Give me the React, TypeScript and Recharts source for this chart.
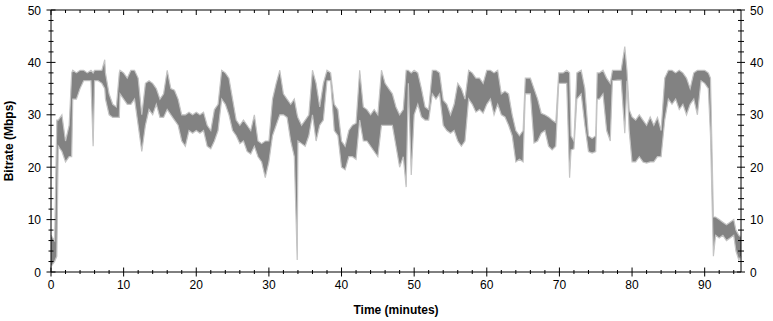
import React from "react";
import { AreaChart, Area, XAxis, YAxis } from "recharts";

// minutes into the stream
const minutes = [
  0, 0.5, 0.8, 1.0, 1.5, 2.0, 2.5, 2.85, 3.0, 3.5,
  4.0, 4.5, 5.0, 5.5, 5.8, 6.0, 6.5, 7.0, 7.4, 7.5,
  8.0, 8.5, 9.0, 9.4, 9.5, 10.0, 10.5, 11.0, 11.5, 12.0,
  12.5, 13.0, 13.5, 14.0, 14.5, 15.0, 15.5, 16.0, 16.5, 17.0,
  17.5, 18.0, 18.5, 19.0, 19.5, 20.0, 20.5, 21.0, 21.5, 22.0,
  22.5, 23.0, 23.5, 24.0, 24.5, 25.0, 25.5, 26.0, 26.5, 27.0,
  27.5, 28.0, 28.5, 29.0, 29.5, 30.0, 30.5, 31.0, 31.5, 32.0,
  32.5, 33.0, 33.5, 33.9, 34.0, 34.5, 35.0, 35.5, 36.0, 36.5,
  37.0, 37.5, 38.0, 38.5, 39.0, 39.5, 40.0, 40.5, 41.0, 41.5,
  42.0, 42.5, 43.0, 43.5, 44.0, 44.5, 45.0, 45.5, 46.0, 46.5,
  47.0, 47.5, 48.0, 48.5, 48.9, 49.2, 49.6, 50.0, 50.5, 51.0,
  51.5, 52.0, 52.5, 53.0, 53.5, 54.0, 54.5, 55.0, 55.5, 56.0,
  56.5, 57.0, 57.5, 58.0, 58.5, 59.0, 59.5, 60.0, 60.5, 61.0,
  61.5, 62.0, 62.5, 63.0, 63.5, 64.0, 64.5, 65.0, 65.3, 66.0,
  66.5, 67.0, 67.5, 68.0, 68.5, 69.0, 69.5, 69.9, 70.5, 71.0,
  71.4, 71.6, 72.0, 72.4, 73.0, 73.5, 74.0, 74.5, 75.0, 75.2,
  75.5, 76.0, 76.5, 77.0, 77.3, 78.0, 78.5, 79.0, 79.3, 79.6,
  80.0, 80.5, 81.0, 81.5, 82.0, 82.5, 83.0, 83.5, 84.0, 84.5,
  85.0, 85.5, 86.0, 86.5, 87.0, 87.5, 88.0, 88.5, 89.0, 89.5,
  90.0, 90.5, 90.8, 91.2, 91.5, 92.0, 92.5, 93.0, 93.5, 94.0,
  94.3, 94.7, 95.0,
];

// lower edge of the bitrate trace (Mbps)
const lowMbps = [
  1, 2, 3, 24, 23, 21, 22, 22, 33, 33,
  35, 36.5, 36.5, 36.5, 24, 36.5, 36.5, 36, 35, 33,
  30, 29.5, 29.5, 29.5, 34, 33, 32, 32, 33, 28,
  23, 28, 31, 30, 32, 29.5, 29.5, 31, 30, 29,
  28, 25, 24, 27, 26.5, 27, 26.5, 27, 24, 23.5,
  25, 27, 33, 32, 30, 27, 26, 24.5, 25, 23,
  22.5, 24, 22, 21, 18, 21, 26, 28, 30, 30,
  29.5, 25, 22, 2.3, 25, 24.5, 24, 26, 30, 25,
  28, 29, 36.5, 36.5, 27, 26, 20, 19.5, 22, 22,
  21.5, 29, 25, 25, 24, 23, 22, 28, 28, 28,
  28, 24, 20, 22, 16.2, 36, 18.5, 30, 32, 29.6,
  29, 29, 34, 33, 34, 28, 27, 26.5, 27, 25,
  24, 25, 33, 32, 30.5, 31, 30.3, 32, 33, 30,
  32, 30, 29.6, 28, 26, 21, 21.5, 21, 34, 34,
  24.6, 25, 26.5, 27, 24, 23.3, 24, 36, 36, 36,
  18, 23.3, 23.5, 33, 34, 28, 23, 22.7, 23, 33,
  33, 34, 27, 25, 36.5, 36.6, 36.6, 26.5, 36.5, 27,
  21, 21, 22, 21, 20.8, 21, 21, 22, 22, 29,
  33, 32, 33, 31, 32, 30, 32, 33, 30, 36.5,
  36, 35, 26, 3, 7, 6.5, 7, 6, 6.5, 7,
  4, 2.3, 3,
];

// upper edge of the bitrate trace (Mbps)
const highMbps = [
  7, 6, 29, 29, 30, 25, 28, 38, 38.5, 38,
  38.5, 38.5, 38, 38.5, 38, 38.5, 38.5, 38.5, 40.5, 38,
  34, 32, 31.5, 38, 38.5, 38, 37, 38.5, 38.5, 37,
  30, 36, 36.5, 36, 35, 33, 34, 38.5, 35, 34.7,
  33, 30, 30, 30.5, 30, 30.5, 30, 30.5, 28, 27,
  31, 32, 38.5, 38, 37, 33, 29, 28, 29, 28,
  27, 30, 25, 24.5, 25, 25, 33, 36, 38.5, 34,
  33, 32, 33, 30, 29.5, 28, 29, 30, 38.5, 36,
  31.5, 36, 38.5, 38, 32, 31, 25, 24, 27, 28,
  28.4, 38.5, 31.5, 31, 30, 31, 30, 38.5, 36, 35,
  34, 31.5, 30, 31, 38.5, 38.5, 38, 38.5, 38, 35,
  31.5, 31, 38.5, 38.5, 38, 32.8, 32, 30, 32, 36,
  35, 33, 38.5, 38, 37, 37, 36, 38.5, 38.5, 38,
  38.5, 34, 34.5, 34, 30, 27, 26, 27, 37, 37,
  35, 33, 30.3, 30, 29.6, 29, 28.5, 38, 38, 38.5,
  38, 26, 25, 38, 38.5, 35, 26, 25.5, 26, 38,
  38, 38.5, 37, 36, 38.5, 38.5, 38.5, 43, 38.5, 31,
  29.6, 29, 30, 29, 28, 29.6, 28, 29.5, 27, 37,
  38.5, 38.5, 38, 38.5, 38, 37, 35, 38, 38.5, 38.5,
  38.5, 38, 37, 10.5, 10.5, 10, 9.5, 9, 9.5, 10,
  8, 7, 6.7,
];

const xTicks = [
  0, 2, 4, 6, 8, 10, 12, 14, 16, 18, 20, 22, 24, 26, 28, 30, 32, 34, 36, 38,
  40, 42, 44, 46, 48, 50, 52, 54, 56, 58, 60, 62, 64, 66, 68, 70, 72, 74, 76, 78,
  80, 82, 84, 86, 88, 90, 92, 94,
];
const yTicks = [
  0, 2, 4, 6, 8, 10, 12, 14, 16, 18, 20, 22, 24, 26, 28, 30, 32, 34, 36, 38,
  40, 42, 44, 46, 48, 50,
];

const data = minutes.map((t, i) => ({ t, low: lowMbps[i], high: highMbps[i] }));

const FONT = "'Liberation Sans', Arial, sans-serif";

const BottomTick = ({ x, y, payload }: any) => {
  const major = payload.value % 10 === 0;
  const len = major ? 4.5 : 2;
  return (
    <g>
      <line x1={x} x2={x} y1={y - len} y2={y + len} stroke="#000" />
      {major && (
        <text x={x} y={y + 17} textAnchor="middle" fontSize={12} fontFamily={FONT} fill="#000">
          {payload.value}
        </text>
      )}
    </g>
  );
};

const TopTick = ({ x, y, payload }: any) => {
  const major = payload.value % 10 === 0;
  return <line x1={x} x2={x} y1={y} y2={y + (major ? 5 : 3)} stroke="#000" />;
};

const LeftTick = ({ x, y, payload }: any) => {
  const major = payload.value % 10 === 0;
  const len = major ? 4.5 : 2.5;
  return (
    <g>
      <line x1={x - len} x2={x + len} y1={y} y2={y} stroke="#000" />
      {major && (
        <text x={x - 10} y={y + 4.5} textAnchor="end" fontSize={12} fontFamily={FONT} fill="#000">
          {payload.value}
        </text>
      )}
    </g>
  );
};

const RightTick = ({ x, y, payload }: any) => {
  const major = payload.value % 10 === 0;
  const len = major ? 4 : 3;
  return (
    <g>
      <line x1={x - len} x2={x + len} y1={y} y2={y} stroke="#000" />
      {major && (
        <text x={x + 9} y={y + 4.5} textAnchor="start" fontSize={12} fontFamily={FONT} fill="#000">
          {payload.value}
        </text>
      )}
    </g>
  );
};

const YTitle = ({ viewBox }: any) => {
  const cx = viewBox.x + 9;
  const cy = viewBox.y + viewBox.height / 2;
  return (
    <text
      x={cx}
      y={cy}
      transform={`rotate(-90 ${cx} ${cy})`}
      textAnchor="middle"
      dominantBaseline="central"
      fontSize={12}
      fontWeight="bold"
      fontFamily={FONT}
      fill="#000"
    >
      Bitrate (Mbps)
    </text>
  );
};

const XTitle = ({ viewBox }: any) => {
  const cx = viewBox.x + viewBox.width / 2;
  return (
    <text
      x={cx}
      y={viewBox.y + 42}
      textAnchor="middle"
      fontSize={12}
      fontWeight="bold"
      fontFamily={FONT}
      fill="#000"
    >
      Time (minutes)
    </text>
  );
};

export default function App() {
  return (
    <div style={{ position: "absolute", left: 0, top: 0, background: "#fff" }}>
      <AreaChart width={773} height={321} data={data} margin={{ top: 9, right: 0, bottom: 0, left: 0 }}>
        <XAxis
          dataKey="t"
          type="number"
          domain={[0, 95]}
          ticks={xTicks}
          interval={0}
          tickSize={0}
          tickMargin={0}
          tickLine={false}
          tick={<BottomTick />}
          height={49}
          axisLine={{ stroke: "#000" }}
          label={<XTitle />}
        />
        <XAxis
          xAxisId="top"
          orientation="top"
          dataKey="t"
          type="number"
          domain={[0, 95]}
          ticks={xTicks}
          interval={0}
          tickSize={0}
          tickMargin={0}
          tickLine={false}
          tick={<TopTick />}
          height={1}
          axisLine={{ stroke: "#000" }}
        />
        <YAxis
          type="number"
          domain={[0, 50]}
          ticks={yTicks}
          interval={0}
          tickSize={0}
          tickMargin={0}
          tickLine={false}
          tick={<LeftTick />}
          width={51}
          axisLine={{ stroke: "#000" }}
          label={<YTitle />}
        />
        <YAxis
          yAxisId="right"
          orientation="right"
          type="number"
          domain={[0, 50]}
          ticks={yTicks}
          interval={0}
          tickSize={0}
          tickMargin={0}
          tickLine={false}
          tick={<RightTick />}
          width={32}
          axisLine={{ stroke: "#000" }}
        />
        {/* same trace bound to the top/right axes so their scales get built */}
        <Area
          xAxisId="top"
          yAxisId="right"
          type="linear"
          dataKey={(d: any) => [d.low, d.high]}
          stroke="none"
          fill="none"
          dot={false}
          activeDot={false}
          isAnimationActive={false}
        />
        <Area
          type="linear"
          dataKey={(d: any) => [d.low, d.high]}
          stroke="#c4c4c4"
          strokeWidth={1.2}
          fill="#828282"
          fillOpacity={1}
          dot={false}
          activeDot={false}
          isAnimationActive={false}
        />
      </AreaChart>
    </div>
  );
}
